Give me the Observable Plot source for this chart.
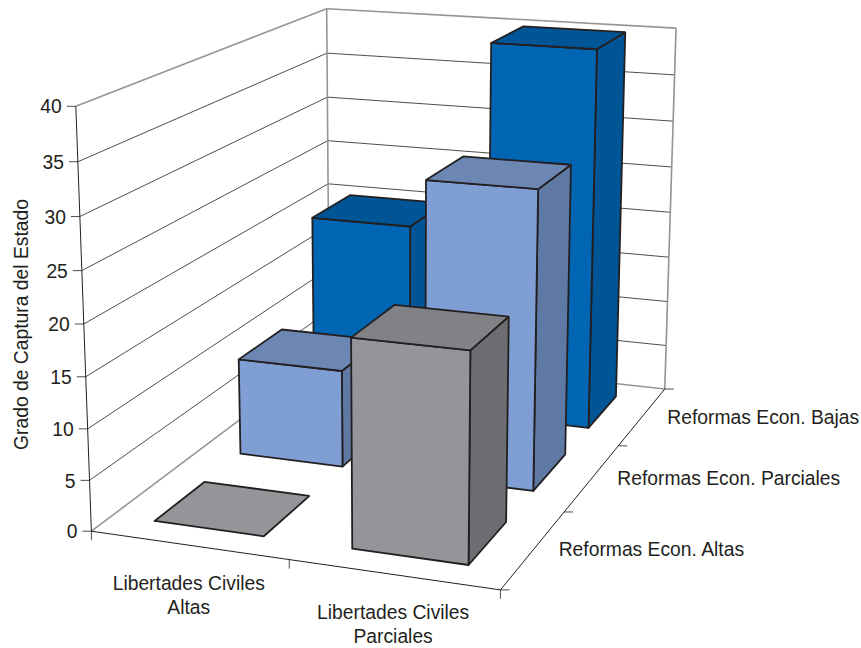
<!DOCTYPE html>
<html><head><meta charset="utf-8">
<style>html,body{margin:0;padding:0;background:#fff}svg{display:block}</style>
<script src="https://cdn.jsdelivr.net/npm/d3@7"></script>
<script src="https://cdn.jsdelivr.net/npm/@observablehq/plot@0.6"></script>
</head><body><div id="c"></div>
<script>
const columns = ["Libertades Civiles\nAltas", "Libertades Civiles\nParciales"];
const rows = ["Reformas Econ. Altas", "Reformas Econ. Parciales", "Reformas Econ. Bajas"];
const altas = [0, 20];
const parciales = [10, 30];
const bajas = [20, 40];
const valueTicks = [0, 5, 10, 15, 20, 25, 30, 35, 40];
const yTitle = "Grado de Captura del Estado";
const frontFill = ["#939598", "#7f9fd4", "#0066b3"];
const topFill = ["#808285", "#6c87b3", "#005596"];
const sideFill = ["#6d6e71", "#5f79a5", "#005596"];

// Camera calibration: [column, row, value] -> picture position.
const calibration = [
  [0,0,0,91,530],[0,0,20,84,322],[0,0,40,75,106],
  [2,0,0,500,589],[1,0,0,289,562],
  [0,3,40,326,8],[0,3,30,326.5,97],[0,3,0,329,352],
  [2,3,40,676,28],[2,3,0,665,388],
  [2,1,0,563,511],[2,2,0,617,445]
];
function fitCamera(pts){
  const n = 11, A = d3.range(n).map(() => new Array(n + 1).fill(0));
  const add = (r, b) => { for (let i = 0; i < n; i++) { for (let j = 0; j < n; j++) A[i][j] += r[i] * r[j]; A[i][n] += r[i] * b; } };
  for (const [a, b, c, u, v] of pts) {
    add([a,b,c,1,0,0,0,0,-u*a,-u*b,-u*c], u);
    add([0,0,0,0,a,b,c,1,-v*a,-v*b,-v*c], v);
  }
  for (let i = 0; i < n; i++) {
    let p = i; for (let k = i + 1; k < n; k++) if (Math.abs(A[k][i]) > Math.abs(A[p][i])) p = k;
    [A[i], A[p]] = [A[p], A[i]];
    for (let k = 0; k < n; k++) if (k !== i) { const f = A[k][i] / A[i][i]; for (let j = i; j <= n; j++) A[k][j] -= f * A[i][j]; }
  }
  return A.map((r, i) => r[n] / r[i]);
}
const m = fitCamera(calibration);
const project = (a, b, c) => {
  const w = m[8]*a + m[9]*b + m[10]*c + 1;
  return [(m[0]*a + m[1]*b + m[2]*c + m[3]) / w, (m[4]*a + m[5]*b + m[6]*c + m[7]) / w];
};
const nCols = columns.length, nRows = rows.length;
const insetCol = 0.22, insetRow = 0.22;

const poly = [];
let pid = 0;
function face(corners, fill){
  const id = pid++;
  for (const c of [...corners, corners[0]]) { const [x, y] = project(...c); poly.push({id, x, y, fill}); }
}
const values = [altas, parciales, bajas];
for (let r = nRows - 1; r >= 0; r--) for (let c = 0; c < nCols; c++) {
  const v = values[r][c];
  const a0 = c + insetCol, a1 = c + 1 - insetCol, b0 = r + insetRow, b1 = r + 1 - insetRow;
  if (v > 0) {
    face([[a1,b0,0],[a1,b1,0],[a1,b1,v],[a1,b0,v]], sideFill[r]);
    face([[a0,b0,0],[a1,b0,0],[a1,b0,v],[a0,b0,v]], frontFill[r]);
  }
  face([[a0,b0,v],[a1,b0,v],[a1,b1,v],[a0,b1,v]], v > 0 ? topFill[r] : frontFill[r]);
}

const seg = (p, q) => { const [x1, y1] = project(...p), [x2, y2] = project(...q); return {x1, y1, x2, y2}; };
const grid = valueTicks.filter(v => v > 0 && v < 40).flatMap(v => [seg([0,0,v],[0,nRows,v]), seg([0,nRows,v],[nCols,nRows,v])]);
const frame = [seg([0,0,40],[0,nRows,40]), seg([0,nRows,40],[nCols,nRows,40]), seg([0,nRows,40],[0,nRows,0]),
  seg([nCols,nRows,40],[nCols,nRows,0]), seg([0,0,0],[0,nRows,0]), seg([0,nRows,0],[nCols,nRows,0])];
const axes = [seg([0,0,40],[0,0,0]), seg([0,0,0],[nCols,0,0]), seg([nCols,0,0],[nCols,nRows,0])];
const at = (a, b, c) => { const [x, y] = project(a, b, c); return {x, y}; };
const valueAt = valueTicks.map(v => ({...at(0,0,v), label: String(v)}));
const colTicks = d3.range(nCols + 1).map(c => at(c,0,0));
const rowTicks = d3.range(nRows + 1).map(r => at(nCols,r,0));
const colLabels = columns.map((label, c) => ({...at(c + 0.5,0,0), label}));
const rowLabels = rows.map((label, r) => ({...at(nCols,r + 0.5,0), label}));

const ink = "#231f20", rim = "#939598", font = "Liberation Sans";
const tickLen = 9;
const plot = Plot.plot({
  width: 861, height: 648, margin: 0,
  style: {background: "#fff", fontFamily: font},
  x: {domain: [0, 861], range: [0, 861], axis: null},
  y: {domain: [0, 648], range: [0, 648], axis: null},
  color: {type: "identity"},
  marks: [
    Plot.link(grid, {x1:"x1", y1:"y1", x2:"x2", y2:"y2", stroke: ink, strokeWidth: 0.8}),
    Plot.link(frame, {x1:"x1", y1:"y1", x2:"x2", y2:"y2", stroke: rim, strokeWidth: 1.6}),
    Plot.link(axes, {x1:"x1", y1:"y1", x2:"x2", y2:"y2", stroke: ink, strokeWidth: 1}),
    Plot.link(valueAt, {x1:"x", y1:"y", x2: d => d.x - tickLen, y2:"y", stroke: ink, strokeWidth: 0.8}),
    Plot.link(colTicks, {x1:"x", y1:"y", x2:"x", y2: d => d.y + tickLen, stroke: ink, strokeWidth: 0.8}),
    Plot.link(rowTicks, {x1:"x", y1:"y", x2: d => d.x + tickLen, y2:"y", stroke: ink, strokeWidth: 0.8}),
    Plot.line(poly, {x:"x", y:"y", z:"id", fill:"fill", stroke: ink, strokeWidth: 1.8, strokeLinejoin:"miter", curve:"linear"}),
    Plot.text(valueAt, {x:"x", y:"y", text:"label", textAnchor:"end", dx:-14, dy:1, fontSize:19.3, fill: ink}),
    Plot.text(colLabels, {x:"x", y:"y", text:"label", dy:49, lineAnchor:"middle", lineHeight:1.25, fontSize:19.3, fill: ink}),
    Plot.text(rowLabels, {x:"x", y:"y", text:"label", textAnchor:"start", dx:25, dy:1, fontSize:19.3, fill: ink}),
    Plot.text([yTitle], {frameAnchor:"left", dx:21, textAnchor:"middle", rotate:-90, fontSize:19.3, fill: ink})
  ]
});
document.getElementById("c").append(plot);
</script></body></html>
